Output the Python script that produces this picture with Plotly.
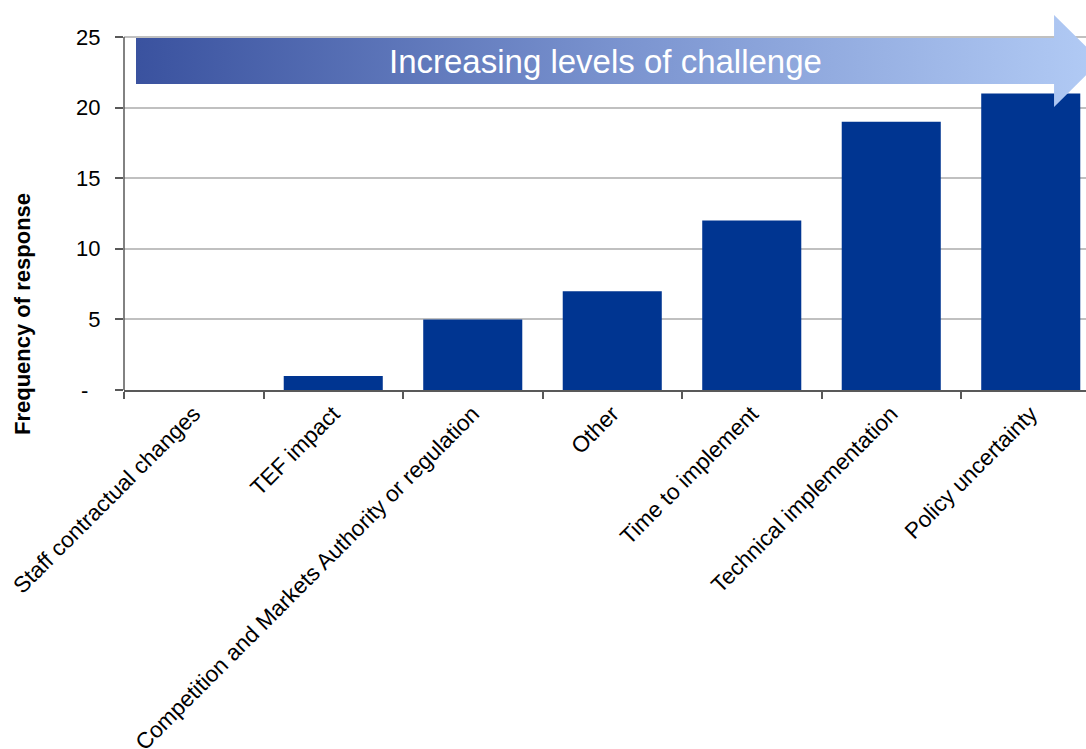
import plotly.graph_objects as go

challenges = ['Staff contractual changes', 'TEF impact',
              'Competition and Markets Authority or regulation', 'Other',
              'Time to implement', 'Technical implementation', 'Policy uncertainty']
responses = [0, 1, 5, 7, 12, 19, 21]
y_ticks = [0, 5, 10, 15, 20, 25]
y_tick_text = ['-\u00a0\u00a0', '5', '10', '15', '20', '25']
banner = 'Increasing levels of challenge'

FONT = 'Liberation Sans, Arial, sans-serif'
pos = list(range(len(challenges)))

fig = go.Figure()

# gradient arrow behind the bars (decoration, in data units)
arrow_x = [-0.414, 6.167, 6.167, 6.50, 6.167, 6.167, -0.414, -0.414]
arrow_y = [24.93, 24.93, 26.56, 23.30, 20.04, 21.67, 21.67, 24.93]
fig.add_trace(go.Scatter(
    x=arrow_x, y=arrow_y, mode='lines', fill='toself',
    line=dict(width=0, color='rgba(0,0,0,0)'),
    fillgradient=dict(type='horizontal',
                      colorscale=[[0, '#3a529f'], [0.5, '#7a93cf'], [1, '#b2cbf5']]),
    hoverinfo='skip', showlegend=False
))

fig.add_trace(go.Bar(
    x=pos, y=responses, width=0.71,
    marker=dict(color='#003591', line=dict(width=0)),
    showlegend=False
))

fig.add_annotation(x=2.955, y=23.25, text=banner, showarrow=False,
                   font=dict(family=FONT, size=33, color='white'))
fig.add_annotation(xref='paper', yref='paper', x=-0.106, y=0.20,
                   xanchor='center', yanchor='middle',
                   text='<b>Frequency of response</b>', textangle=-90,
                   showarrow=False, font=dict(family=FONT, size=22, color='black'))

# y axis line only up to 25
fig.add_shape(type='line', xref='paper', yref='y', x0=0, x1=0, y0=0, y1=25,
              line=dict(color='#595959', width=1.5))

fig.update_layout(
    width=1086, height=749,
    margin=dict(l=124, r=0, t=10, b=359, autoexpand=False),
    plot_bgcolor='white', paper_bgcolor='white',
    font=dict(family=FONT, color='black'),
    xaxis=dict(range=[-0.5, 6.396], tickvals=pos, ticktext=challenges,
               tickangle=-45, ticks='', showgrid=False, zeroline=False,
               automargin=False,
               showline=True, linecolor='#595959', linewidth=1.5,
               tickfont=dict(size=22.5),
               minor=dict(tickvals=[p - 0.5 for p in pos] + [6.5], ticks='outside',
                          ticklen=7, tickcolor='#595959', tickwidth=1.5, showgrid=False)),
    yaxis=dict(range=[0, 26.91], tickvals=y_ticks, ticktext=y_tick_text,
               ticks='outside', ticklen=8, tickcolor='#595959', tickwidth=1.5,
               ticklabelstandoff=10, automargin=False,
               showgrid=True, gridcolor='#c0c0c0', gridwidth=1.5,
               zeroline=False, showline=False, tickfont=dict(size=22)),
    bargap=0.29
)

# drop the default body margin so the figure sits in the page corner
fig.write_html('out.html', config={'displayModeBar': False},
               post_script="document.body.style.margin='0';document.body.style.overflow='hidden';")
